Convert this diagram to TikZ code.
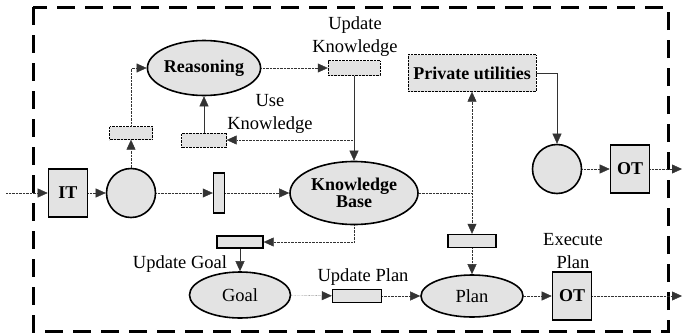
\documentclass[tikz,border=0pt]{standalone}
\usepackage{fontspec}
\setmainfont{Liberation Serif}
\usetikzlibrary{shapes.geometric,arrows.meta}

\begin{document}
\begin{tikzpicture}
[ x=1pt, y=-1pt, thin
, >={Triangle[length=10pt,width=9pt]}
, font=\fontsize{18.5}{23}\selectfont
, point/.style={coordinate}
, state/.style={ellipse, draw, line width=1.6pt, fill=gray!22, inner sep=0pt, align=center, font=\fontsize{18}{20}\selectfont\bfseries}
, place/.style={circle, draw, line width=1.6pt, fill=gray!22, minimum size=49pt, inner sep=0pt}
, term/.style={rectangle, draw, line width=1.6pt, fill=gray!22, minimum width=39pt, minimum height=48pt, inner sep=0pt, font=\fontsize{18}{20}\selectfont\bfseries}
, gate/.style={rectangle, draw, line width=1.4pt, fill=gray!22, inner sep=0pt}
, slot/.style={rectangle, draw, densely dotted, fill=gray!22, inner sep=0pt}
, tag/.style={align=center, inner sep=0pt}
, flow/.style={->, densely dotted, gray!40!black}
, link/.style={->, gray!40!black}
, frame/.style={line width=3pt, dash pattern=on 18pt off 10pt}
]
\useasboundingbox (0,0) rectangle (683,335);
\draw [frame] (33,7) rectangle (668,331);
% Input side:
\coordinate (src) at (6,193);
\node (it) [term] at (68,193) {IT};
\node (buf) [place] at (131,193) {};
\node (inbar) [gate, minimum width=11pt, minimum height=40pt] at (219,193) {};
\node (kb) [state, minimum width=128pt, minimum height=63pt] at (354,193) {Knowledge\\[-3pt]Base};
% Reasoning loop:
\node (pre) [slot, minimum width=43pt, minimum height=13pt] at (131,133) {};
\node (reason) [state, minimum width=112pt, minimum height=55pt] at (204,68) {Reasoning};
\node (updk) [slot, minimum width=52pt, minimum height=15pt] at (354,68) {};
\node (updklbl) [tag] at (355,37) {Update\\Knowledge};
\node (usek) [slot, minimum width=45pt, minimum height=14pt] at (204,140) {};
\node (useklbl) [tag] at (270,114) {Use\\Knowledge};
% Utilities and output:
\node (priv) [rectangle, draw, densely dotted, fill=gray!22, minimum width=128pt, minimum height=37pt, font=\fontsize{18}{20}\selectfont\bfseries] at (472,73) {Private utilities};
\node (outbuf) [place] at (557,169) {};
\node (ot) [term] at (630,169) {OT};
\coordinate (sink) at (682,169);
\coordinate (kbjoin) at (472,193);
% Goal and plan:
\node (plbar) [gate, minimum width=48pt, minimum height=13pt] at (472,241) {};
\node (updg) [gate, minimum width=46pt, minimum height=12pt] at (240,242) {};
\node (updglbl) [tag] at (180,264) {Update Goal};
\node (goal) [state, minimum width=101pt, minimum height=46pt, font=\fontsize{18.5}{20}\selectfont] at (240,295) {Goal};
\node (updp) [gate, minimum width=49pt, minimum height=13pt] at (357,296) {};
\node (updplbl) [tag] at (363,277) {Update Plan};
\node (plan) [state, minimum width=102pt, minimum height=42pt, font=\fontsize{18.5}{20}\selectfont] at (472,296) {Plan};
\node (exec) [term] at (572,296) {OT};
\node (execlbl) [tag] at (573,251) {Execute\\Plan};
\coordinate (sink2) at (682,296);

\draw [flow] (src) -- (it);
\draw [flow] (it) -- (buf);
\draw [flow] (buf) -- (inbar);
\draw [flow] (inbar) -- (kb);
\draw [flow] (buf) -- (pre);
\draw [flow] (pre) |- (reason);
\draw [flow] (reason) -- (updk);
\draw [link] (updk) -- (kb);
\draw [flow] (updk.south |- usek) -- (usek);
\draw [link] (usek) -- (reason);
\draw [flow, -] (kb) -- (kbjoin);
\draw [flow] (kbjoin) -- (priv);
\draw [flow] (kbjoin) -- (plbar);
\draw [flow] (plbar) -- (plan);
\draw [link] (priv) -| (outbuf);
\draw [flow] (outbuf) -- (ot);
\draw [flow] (ot) -- (sink);
\draw [flow] (kb) |- (updg);
\draw [link] (updg) -- (goal);
\draw [flow] (goal) -- (updp);
\draw [flow] (updp) -- (plan);
\draw [flow] (plan) -- (exec);
\draw [flow] (exec) -- (sink2);
\end{tikzpicture}
\end{document}
